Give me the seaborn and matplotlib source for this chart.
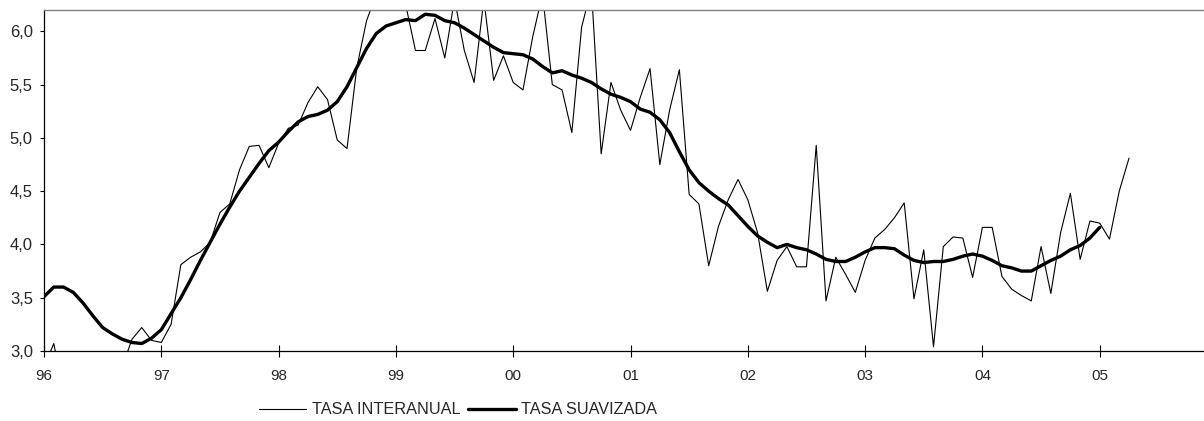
import numpy as np
import pandas as pd
import matplotlib
matplotlib.use("Agg")
import matplotlib.pyplot as plt
import seaborn as sns
from matplotlib.ticker import FuncFormatter

# ==============================
# DATA (monthly, Jan 96 = month 0)
# ==============================
interanual = [
    2.85, 3.07, 2.60, 2.60, 2.50, 2.60, 2.70, 2.75, 2.85, 3.11, 3.22, 3.10,   # 96
    3.08, 3.25, 3.81, 3.88, 3.93, 4.02, 4.30, 4.38, 4.70, 4.92, 4.93, 4.72,   # 97
    4.95, 5.09, 5.12, 5.33, 5.48, 5.36, 4.98, 4.90, 5.66, 6.10, 6.35, 6.45,   # 98
    6.45, 6.25, 5.82, 5.82, 6.12, 5.75, 6.30, 5.82, 5.52, 6.30, 5.54, 5.77,   # 99
    5.52, 5.45, 5.95, 6.35, 5.50, 5.45, 5.05, 6.04, 6.40, 4.85, 5.52, 5.26,   # 00
    5.07, 5.38, 5.65, 4.75, 5.26, 5.64, 4.47, 4.38, 3.80, 4.17, 4.42, 4.61,   # 01
    4.42, 4.11, 3.56, 3.85, 3.98, 3.79, 3.79, 4.93, 3.47, 3.88, 3.72, 3.55,   # 02
    3.85, 4.06, 4.14, 4.25, 4.39, 3.49, 3.95, 3.04, 3.98, 4.07, 4.06, 3.69,   # 03
    4.16, 4.16, 3.70, 3.58, 3.52, 3.47, 3.98, 3.54, 4.11, 4.48, 3.86, 4.22,   # 04
    4.20, 4.05, 4.50, 4.81,                                                   # 05
]
suavizada = [
    3.51, 3.60, 3.60, 3.55, 3.45, 3.33, 3.22, 3.16, 3.11, 3.08, 3.07, 3.12,   # 96
    3.20, 3.35, 3.50, 3.67, 3.85, 4.02, 4.19, 4.35, 4.50, 4.63, 4.76, 4.88,   # 97
    4.96, 5.06, 5.15, 5.20, 5.22, 5.26, 5.34, 5.48, 5.66, 5.84, 5.98, 6.05,   # 98
    6.08, 6.11, 6.10, 6.16, 6.15, 6.10, 6.08, 6.03, 5.97, 5.91, 5.85, 5.80,   # 99
    5.79, 5.78, 5.74, 5.67, 5.61, 5.63, 5.59, 5.56, 5.52, 5.46, 5.41, 5.38,   # 00
    5.34, 5.27, 5.24, 5.17, 5.05, 4.87, 4.70, 4.58, 4.50, 4.43, 4.37, 4.27,   # 01
    4.17, 4.08, 4.02, 3.97, 4.00, 3.97, 3.95, 3.91, 3.86, 3.84, 3.84, 3.88,   # 02
    3.93, 3.97, 3.97, 3.96, 3.90, 3.85, 3.83, 3.84, 3.84, 3.86, 3.89, 3.91,   # 03
    3.89, 3.85, 3.80, 3.78, 3.75, 3.75, 3.80, 3.85, 3.89, 3.95, 3.99, 4.06,   # 04
    4.16,                                                                     # 05
]
year_labels = ["96", "97", "98", "99", "00", "01", "02", "03", "04", "05"]

df_int = pd.DataFrame({"mes": np.arange(len(interanual)), "tasa": interanual})
df_suv = pd.DataFrame({"mes": np.arange(len(suavizada)), "tasa": suavizada})

# ==============================
# PLOT
# ==============================
sns.set_style("white")
plt.rcParams["font.family"] = ["Liberation Sans", "DejaVu Sans"]
plt.rcParams["font.size"] = 11

fig = plt.figure(figsize=(12.04, 4.21), dpi=100)
ax = fig.add_axes([44 / 1204, 1 - 351 / 421, 1 - 44 / 1204, 341 / 421])

sns.lineplot(data=df_int, x="mes", y="tasa", ax=ax, color="black",
             linewidth=0.8, label="TASA INTERANUAL")
sns.lineplot(data=df_suv, x="mes", y="tasa", ax=ax, color="black",
             linewidth=2.4, label="TASA SUAVIZADA")

ax.set_xlim(0, (1204 - 44) / 9.775)
ax.set_ylim(3.0, 6.2)
ax.set_xticks(np.arange(0, 12 * len(year_labels), 12))
ax.set_xticklabels(year_labels)
ax.set_yticks(np.arange(3.0, 6.01, 0.5))
ax.yaxis.set_major_formatter(FuncFormatter(lambda v, p: f"{v:.1f}".replace(".", ",")))
ax.set_xlabel("")
ax.set_ylabel("")

ax.tick_params(axis="x", direction="inout", length=8, width=0.8, color="black",
               pad=9, labelsize=11, bottom=True)
ax.tick_params(axis="y", direction="out", length=3, width=0.8, color="black",
               pad=5, labelsize=12, left=True)

for side in ["left", "bottom"]:
    ax.spines[side].set_color("black")
    ax.spines[side].set_linewidth(0.9)
ax.spines["top"].set_color("#808080")
ax.spines["top"].set_linewidth(1.0)
ax.spines["right"].set_visible(False)

ax.get_legend().remove()
handles, labels = ax.get_legend_handles_labels()
fig.legend(handles, labels, loc="center", bbox_to_anchor=(458 / 1204, 11 / 421),
           ncol=2, frameon=False, fontsize=11.7, handlelength=2.9,
           handletextpad=0.35, columnspacing=0.5)

plt.savefig("out.png", dpi=100)
